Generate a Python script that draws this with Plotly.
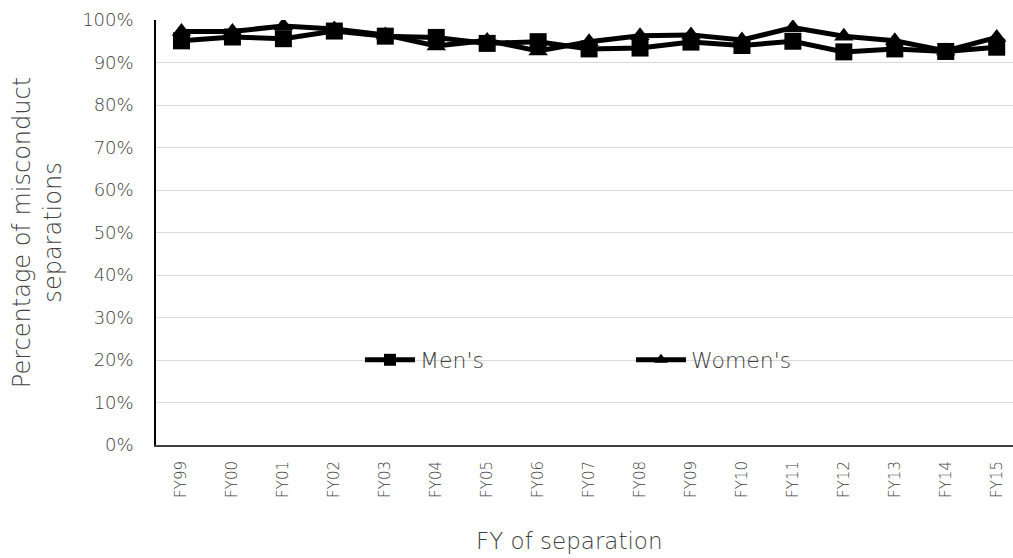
import plotly.graph_objects as go

# Fiscal years of separation
years = ["FY99", "FY00", "FY01", "FY02", "FY03", "FY04", "FY05", "FY06", "FY07",
         "FY08", "FY09", "FY10", "FY11", "FY12", "FY13", "FY14", "FY15"]

# Share of misconduct separations (%)
mens = [95.1, 96.0, 95.6, 97.4, 96.2, 95.9, 94.5, 94.9, 93.2,
        93.4, 94.8, 94.0, 95.0, 92.5, 93.2, 92.6, 93.6]
womens = [97.3, 97.3, 98.6, 97.9, 96.5, 93.9, 95.2, 92.7, 94.9,
          96.3, 96.5, 95.3, 98.2, 96.2, 95.1, 92.7, 95.9]

y_ticks = list(range(0, 101, 10))
y_tick_text = [f"{v}%" for v in y_ticks]

FONT = "DejaVu Sans"
W = 200
GREY = "#404040"

fig = go.Figure()

fig.add_trace(go.Scatter(
    x=years, y=womens, name="Women's", mode="lines+markers",
    line=dict(color="black", width=5),
    marker=dict(symbol="triangle-up", size=17, color="black"),
    legendrank=2,
))
fig.add_trace(go.Scatter(
    x=years, y=mens, name="Men's", mode="lines+markers",
    line=dict(color="black", width=5),
    marker=dict(symbol="square", size=17, color="black"),
    legendrank=1,
))

fig.update_layout(
    width=1013, height=558,
    margin=dict(l=156, r=0, t=20, b=113),
    paper_bgcolor="white", plot_bgcolor="white",
    font=dict(family=FONT, color=GREY, weight=W),
    showlegend=True,
    legend=dict(
        orientation="h", x=0.238, y=0.2, xanchor="left", yanchor="middle",
        bgcolor="rgba(0,0,0,0)", font=dict(size=22, color=GREY, family=FONT, weight=W),
        entrywidth=206, entrywidthmode="pixels", traceorder="normal",
        itemsizing="constant", itemwidth=50,
    ),
    xaxis=dict(
        type="category", range=[-0.5, 16.32],
        showline=True, linecolor="#404040", linewidth=2,
        showgrid=False, ticks="", tickangle=-90,
        tickfont=dict(size=15, color=GREY, family=FONT, weight=W),
        ticklabelstandoff=8,
    ),
    yaxis=dict(
        range=[0, 100], tickvals=y_ticks, ticktext=y_tick_text,
        showline=True, linecolor="black", linewidth=1.5,
        showgrid=True, gridcolor="#d9d9d9", gridwidth=1,
        zeroline=False, ticks="",
        tickfont=dict(size=18, color=GREY, family=FONT, weight=W),
        ticklabelstandoff=17,
        title=dict(text="Percentage of misconduct<br>separations",
                   font=dict(size=24, color=GREY, family=FONT, weight=W),
                   standoff=14),
    ),
    annotations=[dict(
        text="FY of separation", xref="paper", yref="paper",
        x=0.482, y=-0.225, xanchor="center", yanchor="middle", showarrow=False,
        font=dict(size=23, color=GREY, family=FONT, weight=W),
    )],
)

fig.write_html("out.html")
